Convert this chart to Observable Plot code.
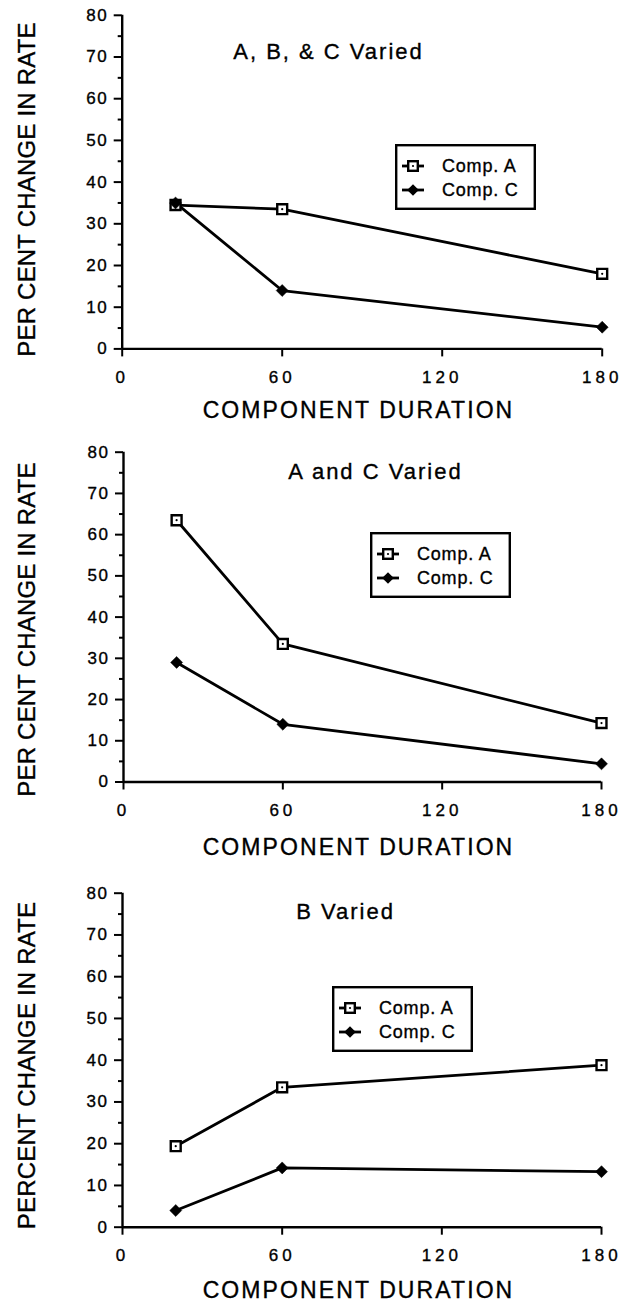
<!DOCTYPE html>
<html>
<head>
<meta charset="utf-8">
<script src="https://cdn.jsdelivr.net/npm/d3@7"></script>
<script src="https://cdn.jsdelivr.net/npm/@observablehq/plot@0.6"></script>
<style>
  html, body { margin: 0; padding: 0; background: #fff; }
  #wrap { position: relative; width: 634px; height: 1309px; overflow: hidden; font-family: "Liberation Sans", Arial, Helvetica, sans-serif; }
  .panel { position: absolute; left: 0; }
  .legend { position: absolute; }
  #wrap svg text { stroke: #000; stroke-width: 0.35px; }
  g[aria-label="x-axis tick label"] text { letter-spacing: 4px; }
  g[aria-label="y-axis tick label"] text { letter-spacing: 1.5px; }
  .legend text { letter-spacing: 0.8px; }
</style>
</head>
<body>
<div id="wrap"></div>
<script>
// ---- data ----
const durations = [20, 60, 180];
const seriesNames = ["Comp. A", "Comp. C"];
const p1CompA = [34.5, 33.5, 18.0];
const p1CompC = [35.0, 14.0, 5.2];
const p2CompA = [63.5, 33.5, 14.3];
const p2CompC = [29.0, 14.0, 4.4];
const p3CompA = [19.4, 33.5, 38.8];
const p3CompC = [4.0, 14.2, 13.3];
const panelTitles = ["A, B, & C Varied", "A and C Varied", "B Varied"];
const yLabels = ["PER CENT CHANGE IN RATE", "PER CENT CHANGE IN RATE", "PERCENT CHANGE IN RATE"];
const xLabel = "COMPONENT DURATION";
const xTicks = [0, 60, 120, 180];
const yTicks = [0, 10, 20, 30, 40, 50, 60, 70, 80];
const yMinorTicks = [5, 15, 25, 35, 45, 55, 65, 75];

// ---- layout (pixels) ----
const layout = [
  {top: 0,   height: 437, mt: 14.8, mb: 88.6, ml: 121.7, mr: 32.3, title: [328, 51.7], ylab: [27, 189], xlab: [358, 410],   legend: [395, 144]},
  {top: 437, height: 442, mt: 14.7, mb: 97.5, ml: 123,   mr: 33,   title: [375, 34.7], ylab: [27, 192], xlab: [358, 410],   legend: [370, 94.7]},
  {top: 879, height: 430, mt: 13.7, mb: 82.3, ml: 122,   mr: 33,   title: [345, 32.7], ylab: [27, 186], xlab: [358, 411],   legend: [331.7, 107]}
];
const panelData = [[p1CompA, p1CompC], [p2CompA, p2CompC], [p3CompA, p3CompC]];
const FONT = "Liberation Sans, Arial, Helvetica, sans-serif";

const wrap = document.getElementById("wrap");

panelData.forEach(([compA, compC], i) => {
  const L = layout[i];
  const rows = [];
  durations.forEach((d, j) => rows.push({duration: d, value: compA[j], series: seriesNames[0]}));
  durations.forEach((d, j) => rows.push({duration: d, value: compC[j], series: seriesNames[1]}));
  const rowsA = rows.filter(r => r.series === seriesNames[0]);
  const rowsC = rows.filter(r => r.series === seriesNames[1]);
  const fx = (p) => ({frameAnchor: "top-left", dx: p[0] - L.ml, dy: p[1] - L.mt});

  const chart = Plot.plot({
    width: 634,
    height: L.height,
    marginTop: L.mt,
    marginBottom: L.mb,
    marginLeft: L.ml,
    marginRight: L.mr,
    style: {fontFamily: FONT, fontSize: "17px", color: "#000", background: "#fff"},
    x: {domain: [0, 180]},
    y: {domain: [0, 80]},
    marks: [
      Plot.axisY({ticks: yMinorTicks, tickSize: 4, tickFormat: () => "", strokeWidth: 2, label: null}),
      Plot.axisY({ticks: yTicks, tickSize: 8, tickPadding: 6, strokeWidth: 2, fontSize: 17, label: null}),
      Plot.axisX({ticks: xTicks, tickSize: 8, tickPadding: 14, strokeWidth: 2, fontSize: 17, label: null}),
      Plot.ruleX([0], {y1: 0, y2: 80, strokeWidth: 2.4}),
      Plot.ruleY([0], {x1: 0, x2: 180, strokeWidth: 2.4}),
      Plot.line(rowsA, {x: "duration", y: "value", stroke: "#000", strokeWidth: 2.8}),
      Plot.line(rowsC, {x: "duration", y: "value", stroke: "#000", strokeWidth: 2.8}),
      Plot.dot(rowsA, {x: "duration", y: "value", symbol: "square", r: 5.6, fill: "#fff", stroke: "#000", strokeWidth: 2.4}),
      Plot.dot(rowsA, {x: "duration", y: "value", r: 1.1, fill: "#000", stroke: null}),
      Plot.dot(rowsC, {x: "duration", y: "value", symbol: "diamond2", r: 5.4, fill: "#000", stroke: "#000", strokeWidth: 0.5}),
      Plot.text([panelTitles[i]], {...fx(L.title), textAnchor: "middle", lineAnchor: "middle", fontSize: 22, fill: "#000"}),
      Plot.text([yLabels[i]], {...fx(L.ylab), rotate: -90, textAnchor: "middle", lineAnchor: "middle", fontSize: 24, fill: "#000"}),
      Plot.text([xLabel], {...fx(L.xlab), textAnchor: "middle", lineAnchor: "middle", fontSize: 23, fill: "#000"})
    ]
  });
  // letter spacing for the scanned-looking wide lettering
  const spacing = new Map([[panelTitles[i], "2px"], [xLabel, "2.1px"], [yLabels[i], "0.2px"]]);
  d3.select(chart).selectAll("text").each(function () {
    const s = spacing.get(this.textContent);
    if (s) this.style.letterSpacing = s;
  });
  const holder = document.createElement("div");
  holder.className = "panel";
  holder.style.top = L.top + "px";
  holder.appendChild(chart);
  wrap.appendChild(holder);

  // legend box
  const lw = 141, lh = 66;
  const leg = d3.create("svg")
    .attr("class", "legend")
    .attr("width", lw).attr("height", lh)
    .style("left", L.legend[0] + "px")
    .style("top", (L.top + L.legend[1]) + "px")
    .style("font-family", FONT);
  leg.append("rect").attr("x", 1.2).attr("y", 1.2).attr("width", lw - 2.4).attr("height", lh - 2.4)
    .attr("fill", "#fff").attr("stroke", "#000").attr("stroke-width", 2.4);
  seriesNames.forEach((name, k) => {
    const cy = 22 + k * 24;
    const g = leg.append("g");
    g.append("line").attr("x1", 7).attr("x2", 29).attr("y1", cy).attr("y2", cy).attr("stroke", "#000").attr("stroke-width", 2.8);
    if (k === 0) {
      g.append("rect").attr("x", 18 - 4.8).attr("y", cy - 4.8).attr("width", 9.6).attr("height", 9.6)
        .attr("fill", "#fff").attr("stroke", "#000").attr("stroke-width", 2.4);
      g.append("circle").attr("cx", 18).attr("cy", cy).attr("r", 1.1).attr("fill", "#000");
    } else {
      g.append("path").attr("transform", `translate(18,${cy})`).attr("d", "M0,-5.8L5.8,0L0,5.8L-5.8,0Z").attr("fill", "#000");
    }
    g.append("text").attr("x", 47).attr("y", cy).attr("dy", "0.35em").attr("font-size", 18).attr("fill", "#000").text(name);
  });
  wrap.appendChild(leg.node());
});
</script>
</body>
</html>
